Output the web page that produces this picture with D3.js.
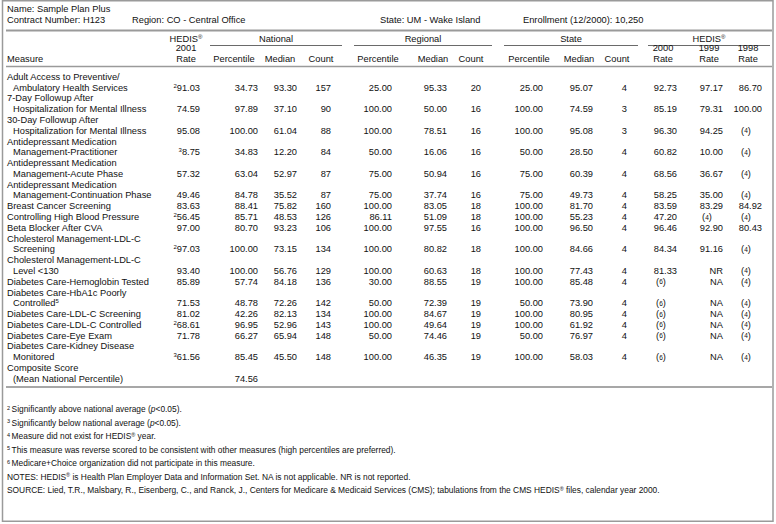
<!DOCTYPE html>
<html>
<head>
<meta charset="utf-8">
<script src="https://cdn.jsdelivr.net/npm/d3@7"></script>
<style>
  body { margin: 0; background: #fff; }
  svg text { font-family: "Liberation Sans", Arial, Helvetica, sans-serif; fill: #111; }
</style>
</head>
<body>
<div id="table"></div>
<script>
// plan info
const planName = "Sample Plan Plus";
const contractNumber = "H123";
const region = "CO - Central Office";
const state = "UM - Wake Island";
const enrollment = "10,250";

// measures (wrapped the way the report wraps them)
const measures = [
  ["Adult Access to Preventive/", "Ambulatory Health Services"],
  ["7-Day Followup After", "Hospitalization for Mental Illness"],
  ["30-Day Followup After", "Hospitalization for Mental Illness"],
  ["Antidepressant Medication", "Management-Practitioner"],
  ["Antidepressant Medication", "Management-Acute Phase"],
  ["Antidepressant Medication", "Management-Continuation Phase"],
  ["Breast Cancer Screening"],
  ["Controlling High Blood Pressure"],
  ["Beta Blocker After CVA"],
  ["Cholesterol Management-LDL-C", "Screening"],
  ["Cholesterol Management-LDL-C", "Level <130"],
  ["Diabetes Care-Hemoglobin Tested"],
  ["Diabetes Care-HbA1c Poorly", "Controlled"],
  ["Diabetes Care-LDL-C Screening"],
  ["Diabetes Care-LDL-C Controlled"],
  ["Diabetes Care-Eye Exam"],
  ["Diabetes Care-Kidney Disease", "Monitored"],
  ["Composite Score", "(Mean National Percentile)"]
];
// footnote number attached to the measure name (last line)
const measureNote = [null, null, null, null, null, null, null, null, null, null, null, null, 5, null, null, null, null, null];

// HEDIS 2001 rate and its significance footnote
const rate2001 = [91.03, 74.59, 95.08, 8.75, 57.32, 49.46, 83.63, 56.45, 97.00, 97.03, 93.40, 85.89, 71.53, 81.02, 68.61, 71.78, 61.56, null];
const rate2001Note = [2, null, null, 3, null, null, null, 2, null, 2, null, null, null, null, 2, null, 3, null];

// national
const natPercentile = [34.73, 97.89, 100.00, 34.83, 63.04, 84.78, 88.41, 85.71, 80.70, 100.00, 100.00, 57.74, 48.78, 42.26, 96.95, 66.27, 85.45, 74.56];
const natMedian = [93.30, 37.10, 61.04, 12.20, 52.97, 35.52, 75.82, 48.53, 93.23, 73.15, 56.76, 84.18, 72.26, 82.13, 52.96, 65.94, 45.50, null];
const natCount = [157, 90, 88, 84, 87, 87, 160, 126, 106, 134, 129, 136, 142, 134, 143, 148, 148, null];

// regional
const regPercentile = [25.00, 100.00, 100.00, 50.00, 75.00, 75.00, 100.00, 86.11, 100.00, 100.00, 100.00, 30.00, 50.00, 100.00, 100.00, 50.00, 100.00, null];
const regMedian = [95.33, 50.00, 78.51, 16.06, 50.94, 37.74, 83.05, 51.09, 97.55, 80.82, 60.63, 88.55, 72.39, 84.67, 49.64, 74.46, 46.35, null];
const regCount = [20, 16, 16, 16, 16, 16, 18, 18, 16, 18, 18, 19, 19, 19, 19, 19, 19, null];

// state
const statePercentile = [25.00, 100.00, 100.00, 50.00, 75.00, 75.00, 100.00, 100.00, 100.00, 100.00, 100.00, 100.00, 50.00, 100.00, 100.00, 50.00, 100.00, null];
const stateMedian = [95.07, 74.59, 95.08, 28.50, 60.39, 49.73, 81.70, 55.23, 96.50, 84.66, 77.43, 85.48, 73.90, 80.95, 61.92, 76.97, 58.03, null];
const stateCount = [4, 3, 3, 4, 4, 4, 4, 4, 4, 4, 4, 4, 4, 4, 4, 4, 4, null];

// earlier HEDIS years ("(4)" / "(6)" are footnote codes)
const rate2000 = [92.73, 85.19, 96.30, 60.82, 68.56, 58.25, 83.59, 47.20, 96.46, 84.34, 81.33, "(6)", "(6)", "(6)", "(6)", "(6)", "(6)", null];
const rate1999 = [97.17, 79.31, 94.25, 10.00, 36.67, 35.00, 83.29, "(4)", 92.90, 91.16, "NR", "NA", "NA", "NA", "NA", "NA", "NA", null];
const rate1998 = [86.70, 100.00, "(4)", "(4)", "(4)", "(4)", 84.92, "(4)", 80.43, "(4)", "(4)", "(4)", "(4)", "(4)", "(4)", "(4)", "(4)", null];

const footnotes = [
  { n: "2", text: "Significantly above national average (", italic: "p", tail: "<0.05)." },
  { n: "3", text: "Significantly below national average (", italic: "p", tail: "<0.05)." },
  { n: "4", text: "Measure did not exist for HEDIS", reg: true, tail: " year." },
  { n: "5", text: "This measure was reverse scored to be consistent with other measures (high percentiles are preferred)." },
  { n: "6", text: "Medicare+Choice organization did not participate in this measure." },
  { n: null, text: "NOTES: HEDIS", reg: true, tail: " is Health Plan Employer Data and Information Set. NA is not applicable. NR is not reported." },
  { n: null, text: "SOURCE: Lied, T.R., Malsbary, R., Eisenberg, C., and Ranck, J., Centers for Medicare & Medicaid Services (CMS); tabulations from the CMS HEDIS", reg: true, tail: " files, calendar year 2000." }
];

// column layout: gap = distance from previous column's right edge,
// shift = header offset from its default spot over the values
const columns = [
  { key: "r2001", values: rate2001, notes: rate2001Note, top: "2001", label: "Rate", gap: 200 },
  { key: "natP", values: natPercentile, label: "Percentile", gap: 58, shift: -10 },
  { key: "natM", values: natMedian, label: "Median", gap: 39, shift: -3 },
  { key: "natC", values: natCount, label: "Count", gap: 34, count: true },
  { key: "regP", values: regPercentile, label: "Percentile", gap: 61 },
  { key: "regM", values: regMedian, label: "Median", gap: 55 },
  { key: "regC", values: regCount, label: "Count", gap: 34, count: true },
  { key: "stP", values: statePercentile, label: "Percentile", gap: 62 },
  { key: "stM", values: stateMedian, label: "Median", gap: 50 },
  { key: "stC", values: stateCount, label: "Count", gap: 34, count: true },
  { key: "r2000", values: rate2000, top: "2000", label: "Rate", gap: 50 },
  { key: "r1999", values: rate1999, top: "1999", label: "Rate", gap: 46 },
  { key: "r1998", values: rate1998, top: "1998", label: "Rate", gap: 39 }
];
// spanning headers; pads = how far the rule reaches past the first / last column
const groups = [
  { label: "National", from: "natP", to: "natC", padL: 48, padR: 11 },
  { label: "Regional", from: "regP", to: "regC", padL: 38, padR: 11 },
  { label: "State", from: "stP", to: "stC", padL: 39, padR: 11 },
  { label: "HEDIS", reg: true, from: "r2000", to: "r1998", padL: 29, padR: 8 }
];

const width = 776, height = 524;
const fs = 9.3, sup = 6;
const fmt = d3.format(".2f");

let acc = 0;
columns.forEach((c) => {
  acc += c.gap;
  c.right = acc;
  c.center = (c.count ? acc - 10 : acc - 14) + (c.shift || 0);
});
const colByKey = {};
columns.forEach((c) => (colByKey[c.key] = c));

// line index for every measure
let line = 0;
const rows = measures.map((m, i) => {
  const r = { i: i, lines: m, start: line, valueLine: line + m.length - 1 };
  line += m.length;
  return r;
});
const totalLines = line;

const y = d3.scaleLinear().domain([0, totalLines - 1]).range([76.5, 378.5]);
const yNote = d3.scaleLinear().domain([0, footnotes.length - 1]).range([409, 490]);
const base = 3.3;

const svg = d3.select("#table").append("svg")
  .attr("width", width).attr("height", height)
  .style("font-size", fs + "px");

// frame
svg.append("rect")
  .attr("x", 2.5).attr("y", 0.75).attr("width", 770.5).attr("height", 520.5)
  .attr("fill", "none").attr("stroke", "#9a9a9a").attr("stroke-width", 1.5);

// plan info block
svg.append("text").attr("x", 7).attr("y", 11.5).text("Name: " + planName);
svg.append("text").attr("x", 7).attr("y", 22.5).text("Contract Number: " + contractNumber);
svg.append("text").attr("x", 132).attr("y", 22.5).text("Region: " + region);
svg.append("text").attr("x", 380).attr("y", 22.5).text("State: " + state);
svg.append("text").attr("x", 523).attr("y", 22.5).text("Enrollment (12/2000): " + enrollment);
svg.append("line").attr("x1", 6).attr("x2", 772).attr("y1", 30.5).attr("y2", 30.5)
  .attr("stroke", "#9a9a9a").attr("stroke-width", 2);

function withReg(sel, label) {
  sel.append("tspan").text(label);
  sel.append("tspan").attr("font-size", sup).attr("dy", -3).text("®");
}

// header: HEDIS 2001
const h2001 = colByKey.r2001;
withReg(svg.append("text").attr("x", h2001.center).attr("y", 41.5).attr("text-anchor", "middle"), "HEDIS");

// group headers with rules
groups.forEach((g) => {
  const x0 = colByKey[g.from].right - g.padL;
  const x1 = Math.min(colByKey[g.to].right + g.padR, 770);
  const t = svg.append("text").attr("x", (x0 + x1) / 2).attr("y", 41.5).attr("text-anchor", "middle");
  if (g.reg) withReg(t, g.label); else t.text(g.label);
  svg.append("line").attr("x1", x0).attr("x2", x1).attr("y1", 45.5).attr("y2", 45.5)
    .attr("stroke", "#444").attr("stroke-width", 0.8);
});

// column headers
svg.append("text").attr("x", 7).attr("y", 61.5).text("Measure");
columns.forEach((c) => {
  if (c.top) svg.append("text").attr("x", c.center).attr("y", 51).attr("text-anchor", "middle").text(c.top);
  svg.append("text").attr("x", c.center).attr("y", 61.5).attr("text-anchor", "middle").text(c.label);
});
svg.append("line").attr("x1", 6).attr("x2", 772).attr("y1", 66.5).attr("y2", 66.5)
  .attr("stroke", "#9a9a9a").attr("stroke-width", 1.5);

// measure names
rows.forEach((r) => {
  r.lines.forEach((txt, k) => {
    const t = svg.append("text").attr("x", k === 0 ? 7 : 13).attr("y", y(r.start + k) + base);
    t.append("tspan").text(txt);
    if (k === r.lines.length - 1 && measureNote[r.i]) {
      t.append("tspan").attr("font-size", sup).attr("dy", -3).text(measureNote[r.i]);
    }
  });
});

// cells
function drawCell(c, r) {
  const v = c.values[r.i];
  if (v == null) return;
  const yy = y(r.valueLine) + base;
  if (typeof v === "string" && v[0] === "(") {
    const t = svg.append("text").attr("x", c.right - 16).attr("y", yy).attr("text-anchor", "middle");
    t.append("tspan").text("(");
    t.append("tspan").attr("font-size", 6.5).attr("dy", -0.5).text(v.slice(1, -1));
    t.append("tspan").attr("dy", 0.5).text(")");
    return;
  }
  const label = typeof v === "string" ? v : c.count ? String(v) : fmt(v);
  const t = svg.append("text").attr("x", c.right).attr("y", yy).attr("text-anchor", "end");
  const note = c.notes ? c.notes[r.i] : null;
  if (note) {
    t.append("tspan").attr("font-size", sup).attr("dy", -3).text(note);
    t.append("tspan").attr("dy", 3).text(label);
  } else {
    t.text(label);
  }
}
columns.forEach((c) => rows.forEach((r) => drawCell(c, r)));

svg.append("line").attr("x1", 6).attr("x2", 772).attr("y1", 387).attr("y2", 387)
  .attr("stroke", "#8a8a8a").attr("stroke-width", 1.5);

// footnotes
footnotes.forEach((f, i) => {
  const t = svg.append("text").attr("x", 7).attr("y", yNote(i) + 3).style("font-size", "8.4px");
  if (f.n) t.append("tspan").attr("font-size", 5.5).attr("dy", -2.5).text(f.n + " ");
  t.append("tspan").attr("dy", f.n ? 2.5 : 0).text(f.text);
  if (f.reg) t.append("tspan").attr("font-size", 5.5).attr("dy", -2.5).text("®");
  if (f.italic) t.append("tspan").attr("font-style", "italic").text(f.italic);
  if (f.tail) t.append("tspan").attr("dy", f.reg ? 2.5 : 0).text(f.tail);
});
</script>
</body>
</html>
